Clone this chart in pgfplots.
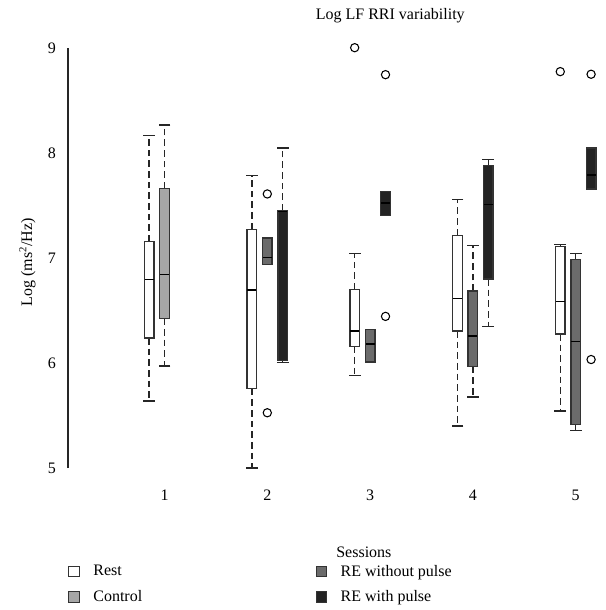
\documentclass[border=0pt]{standalone}
\usepackage{fontspec}
\setmainfont{Liberation Serif}
\usepackage{pgfplots}
\pgfplotsset{compat=1.18}

\definecolor{restc}{HTML}{FFFFFF}
\definecolor{ctrlc}{HTML}{A6A6A6}
\definecolor{rewoc}{HTML}{6B6B6B}
\definecolor{rewc}{HTML}{232323}
\definecolor{edgec}{HTML}{333333}

% whisker: x position, quartile end, whisker end
\newcommand\whisk[3]{%
  \addplot[forget plot, draw=black!85, line width=1.05pt, dash pattern=on 5pt off 3pt]
    coordinates {(#1,#2) (#1,#3)};
  \addplot[forget plot, only marks, mark=-, mark size=4.4pt,
    mark options={draw=black!85, line width=1pt, solid}] coordinates {(#1,#3)};
}
% box: x position, lower quartile, median, upper quartile, fill
\newcommand\boxbody[5]{%
  \addplot[forget plot, draw=edgec, line width=8.1pt] coordinates {(#1,#2) (#1,#4)};
  \addplot[forget plot, draw=#5, line width=6.1pt] coordinates {(#1,#2) (#1,#4)};
  \addplot[forget plot, only marks, mark=-, mark size=4.05pt,
    mark options={draw=edgec, line width=1pt}] coordinates {(#1,#2) (#1,#4)};
  \addplot[forget plot, only marks, mark=-, mark size=3.4pt,
    mark options={draw=black, line width=1pt}] coordinates {(#1,#3)};
}

\pgfplotsset{
  outl/.style={forget plot, only marks, mark=o, mark size=3.1pt,
    mark options={draw=black, line width=0.8pt}},
  sq/.style={legend image code/.code={%
    \draw[fill=#1, draw=edgec, line width=0.8pt] (0pt,-4pt) rectangle (8pt,4pt);}},
}

\begin{document}
\begin{tikzpicture}[font=\fontsize{12}{14}\selectfont]
\begin{axis}[
  scale only axis, width=403.5pt, height=315pt,
  xmin=0.061, xmax=5.295, ymin=5, ymax=9,
  axis x line*=bottom, axis y line*=left,
  x axis line style={draw=none},
  y axis line style={draw=black!85, line width=0.8pt, -},
  xtick={1,2,3,4,5}, ytick={5,6,7,8,9},
  major tick length=0pt,
  /pgf/number format/assume math mode=true,
  xticklabel style={yshift=-13pt},
  yticklabel style={xshift=-5.5pt},
  clip=false,
  every axis title shift=0pt,
  title={Log LF RRI variability},
  title style={at={(axis description cs:0.599,1.078)}, anchor=center},
  xlabel={Sessions},
  xlabel style={at={(axis description cs:0.55,-0.2)}, anchor=center},
  ylabel={Log (ms\textsuperscript{2}/Hz)},
  ylabel style={at={(axis description cs:-0.0753,0.49)}, anchor=center},
  legend columns=2, legend cell align=left,
  legend style={at={(axis description cs:0,-0.224)}, anchor=north west,
    draw=none, fill=none, inner sep=0pt, row sep=5.2pt,
    /tikz/column 1/.style={column sep=8pt},
    /tikz/column 2/.style={column sep=128pt},
    /tikz/column 3/.style={column sep=8pt}},
]
% session 1
\whisk{0.85}{6.238}{5.637}\whisk{0.85}{7.157}{8.164}
\boxbody{0.85}{6.238}{6.796}{7.157}{restc}
\whisk{1.0}{6.425}{5.972}\whisk{1.0}{7.66}{8.266}
\boxbody{1.0}{6.425}{6.84}{7.66}{ctrlc}
% session 2
\whisk{1.85}{5.754}{5.0}\whisk{1.85}{7.274}{7.784}
\boxbody{1.85}{5.754}{6.694}{7.274}{restc}
\boxbody{2.0}{6.94}{7.005}{7.19}{rewoc}
\addplot[outl] coordinates {(2.0,7.61) (2.0,5.526)};
\whisk{2.15}{6.026}{6.004}\whisk{2.15}{7.45}{8.047}
\boxbody{2.15}{6.026}{7.44}{7.45}{rewc}
% session 3
\whisk{2.85}{6.16}{5.884}\whisk{2.85}{6.70}{7.046}
\boxbody{2.85}{6.16}{6.305}{6.70}{restc}
\addplot[outl] coordinates {(2.85,9.003)};
\boxbody{3.0}{6.01}{6.18}{6.318}{rewoc}
\boxbody{3.15}{7.404}{7.524}{7.632}{rewc}
\addplot[outl] coordinates {(3.15,8.746) (3.15,6.444)};
% session 4
\whisk{3.85}{6.305}{5.40}\whisk{3.85}{7.217}{7.556}
\boxbody{3.85}{6.305}{6.612}{7.217}{restc}
\whisk{4.0}{5.966}{5.675}\whisk{4.0}{6.685}{7.116}
\boxbody{4.0}{5.966}{6.257}{6.685}{rewoc}
\whisk{4.15}{6.80}{6.35}\whisk{4.15}{7.879}{7.94}
\boxbody{4.15}{6.80}{7.511}{7.879}{rewc}
% session 5
\whisk{4.85}{6.276}{5.542}\whisk{4.85}{7.112}{7.131}
\boxbody{4.85}{6.276}{6.584}{7.112}{restc}
\addplot[outl] coordinates {(4.85,8.775)};
\whisk{5.0}{5.415}{5.358}\whisk{5.0}{6.983}{7.046}
\boxbody{5.0}{5.415}{6.207}{6.983}{rewoc}
\boxbody{5.15}{7.657}{7.79}{8.047}{rewc}
\addplot[outl] coordinates {(5.15,8.75) (5.15,6.033)};
% legend (row-wise: Rest, RE without pulse, Control, RE with pulse)
\addlegendimage{sq=restc}\addlegendentry{Rest}
\addlegendimage{sq=rewoc}\addlegendentry{RE without pulse}
\addlegendimage{sq=ctrlc}\addlegendentry{Control}
\addlegendimage{sq=rewc}\addlegendentry{RE with pulse}
\end{axis}
\pgfresetboundingbox
\path (-51pt,351pt) rectangle (403.5pt,-106.5pt);
\end{tikzpicture}
\end{document}
